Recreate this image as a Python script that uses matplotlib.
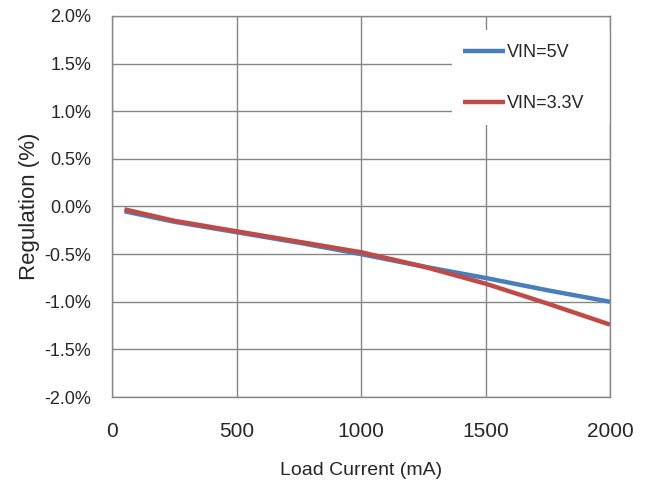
import matplotlib.pyplot as plt
from matplotlib.patches import Rectangle
from matplotlib.ticker import FuncFormatter

# load current (mA)
current = [50, 250, 500, 750, 1000, 1250, 1500, 1750, 2000]
# regulation (%)
vin_5v = [-0.05, -0.16, -0.27, -0.38, -0.50, -0.63, -0.75, -0.88, -1.00]
vin_3v3 = [-0.03, -0.15, -0.26, -0.37, -0.48, -0.63, -0.81, -1.02, -1.24]

x_ticks = [0, 500, 1000, 1500, 2000]
y_ticks = [-2.0, -1.5, -1.0, -0.5, 0.0, 0.5, 1.0, 1.5, 2.0]

plt.rcParams['font.family'] = ['Liberation Sans', 'DejaVu Sans']

fig = plt.figure(figsize=(6.49, 4.98), dpi=100)
ax = fig.add_axes([0.1726, 0.2028, 0.7673, 0.7651])

ax.plot(current, vin_5v, color='#4a7ebb', lw=3.2, label='VIN=5V', solid_capstyle='butt')
ax.plot(current, vin_3v3, color='#be4b48', lw=3.2, label='VIN=3.3V', solid_capstyle='butt')

ax.set_xlim(0, 2000)
ax.set_ylim(-2.0, 2.0)
ax.set_xticks(x_ticks)
ax.set_yticks(y_ticks)
ax.yaxis.set_major_formatter(FuncFormatter(lambda v, p: f'{v:.1f}%'))
ax.grid(True, color='#868686', lw=1)
ax.set_axisbelow(True)
for s in ax.spines.values():
    s.set_color('#868686')
    s.set_linewidth(1)
ax.tick_params(length=0, colors='#262626')
ax.tick_params(axis='y', labelsize=13, pad=15)
ax.tick_params(axis='x', labelsize=15, pad=18)

ax.set_xlabel('Load Current (mA)', fontsize=14, labelpad=15, color='#262626')
ax.set_ylabel('Regulation (%)', fontsize=16, labelpad=3, color='#262626')

# white area behind the legend, reaching to the right spine (hides the grid)
ax.add_patch(Rectangle((0.683, 0.714), 0.317, 0.249, transform=ax.transAxes,
                       facecolor='white', edgecolor='none', zorder=1.5))

leg = ax.legend(loc='upper right', bbox_to_anchor=(0.975, 0.96), fontsize=13,
                handlelength=2.3, handletextpad=0.15, labelspacing=1.9,
                frameon=False, borderpad=0.7, borderaxespad=0.0)
for t in leg.get_texts():
    t.set_color('#262626')

fig.savefig('out.png', dpi=100)
